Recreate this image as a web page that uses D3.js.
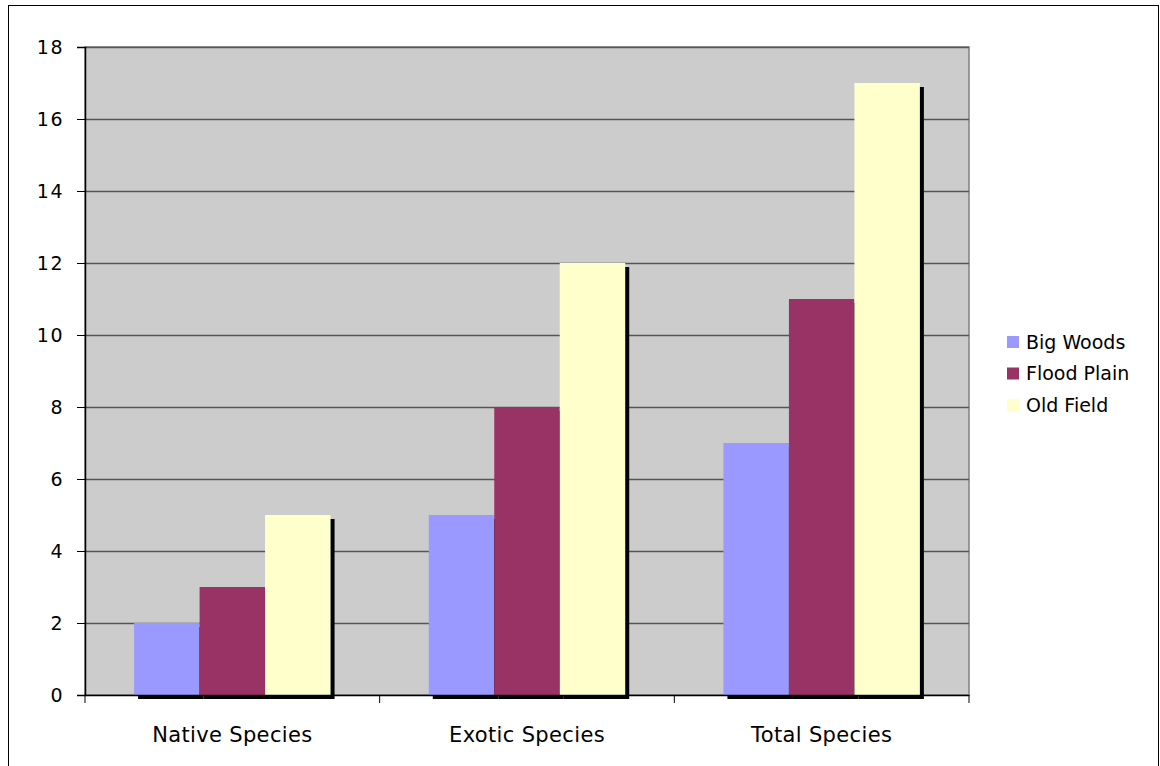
<!DOCTYPE html>
<html>
<head>
<meta charset="utf-8">
<script src="https://cdn.jsdelivr.net/npm/d3@7"></script>
<style>
  body { margin: 0; background: #fff; }
  text { font-family: Verdana, "DejaVu Sans", sans-serif; fill: #000; }
</style>
</head>
<body>
<div id="chart"></div>
<script>
// Dados
const categories = ['Native Species', 'Exotic Species', 'Total Species'];
const seriesNames = ['Big Woods', 'Flood Plain', 'Old Field'];
const bigWoods = [2, 5, 7];
const floodPlain = [3, 8, 11];
const oldField = [5, 12, 17];
const yTicks = [0, 2, 4, 6, 8, 10, 12, 14, 16, 18];

const seriesValues = [bigWoods, floodPlain, oldField];
const colors = ['#9999FF', '#993366', '#FFFFCC'];

const W = 1160, H = 766;
const plot = { left: 85, top: 47, right: 969, bottom: 695 };

const svg = d3.select('#chart').append('svg')
    .attr('width', W).attr('height', H);

// Moldura externa
svg.append('rect')
    .attr('x', 8.5).attr('y', 5.5)
    .attr('width', 1150).attr('height', 780)
    .attr('fill', '#fff').attr('stroke', '#000').attr('stroke-width', 1);

// Escalas
const x0 = d3.scaleBand().domain(categories).range([plot.left, plot.right]);
const x1 = d3.scaleBand().domain(seriesNames)
    .range([0, x0.bandwidth()]).paddingOuter(0.75).paddingInner(0);
const y = d3.scaleLinear().domain([0, 18]).range([plot.bottom, plot.top]);

// Área do gráfico
svg.append('rect')
    .attr('x', plot.left).attr('y', plot.top)
    .attr('width', plot.right - plot.left).attr('height', plot.bottom - plot.top)
    .attr('fill', '#cccccc').attr('stroke', '#808080').attr('stroke-width', 1.5);

// Grade
svg.append('g').selectAll('line')
    .data(yTicks.filter(d => d > 0))
    .enter().append('line')
    .attr('x1', plot.left).attr('x2', plot.right)
    .attr('y1', d => Math.round(y(d)) + 0.5).attr('y2', d => Math.round(y(d)) + 0.5)
    .attr('stroke', '#555').attr('stroke-width', 1.3);

// Linhas (categoria x série)
const rows = [];
categories.forEach((c, i) => {
    seriesNames.forEach((s, j) => rows.push({ cat: c, series: s, value: seriesValues[j][i], idx: j }));
});

// Sombras
svg.append('g').selectAll('rect')
    .data(rows).enter().append('rect')
    .attr('x', d => x0(d.cat) + x1(d.series) + 4)
    .attr('y', d => y(d.value) + 4)
    .attr('width', x1.bandwidth())
    .attr('height', d => plot.bottom - y(d.value))
    .attr('fill', '#000');

// Barras
svg.append('g').selectAll('rect')
    .data(rows).enter().append('rect')
    .attr('x', d => x0(d.cat) + x1(d.series))
    .attr('y', d => y(d.value))
    .attr('width', x1.bandwidth())
    .attr('height', d => plot.bottom - y(d.value))
    .attr('fill', d => colors[d.idx]);

// Eixo Y
const yAxis = svg.append('g')
    .attr('transform', `translate(${plot.left},0)`)
    .call(d3.axisLeft(y).tickValues(yTicks).tickSize(8).tickPadding(13));
yAxis.select('.domain').attr('stroke', '#000').attr('stroke-width', 1.5);
yAxis.selectAll('.tick line').attr('stroke', '#000');
yAxis.selectAll('text')
    .style('font-size', '19px').style('letter-spacing', '1.5px')
    .attr('fill', '#000');

// Eixo X
const xAxis = svg.append('g')
    .attr('transform', `translate(0,${plot.bottom})`)
    .call(d3.axisBottom(x0).tickSize(0).tickPadding(32));
xAxis.select('.domain').attr('stroke', '#000').attr('stroke-width', 1.5);
xAxis.selectAll('text')
    .style('font-size', '21px').style('letter-spacing', '0.35px')
    .attr('fill', '#000');

// Marcas entre categorias
svg.append('g').selectAll('line')
    .data(categories.map(c => x0(c)).concat([plot.right]))
    .enter().append('line')
    .attr('x1', d => d).attr('x2', d => d)
    .attr('y1', plot.bottom).attr('y2', plot.bottom + 8)
    .attr('stroke', '#000');

// Legenda
const legend = svg.append('g').attr('transform', 'translate(1007,342)');
const items = legend.selectAll('g').data(seriesNames).enter().append('g')
    .attr('transform', (d, i) => `translate(0,${i * 31.5})`);
items.append('rect')
    .attr('x', 0).attr('y', -6).attr('width', 12).attr('height', 12)
    .attr('fill', (d, i) => colors[i]);
items.append('text')
    .attr('x', 19).attr('y', 0).attr('dy', '0.35em')
    .style('font-size', '19px')
    .text(d => d);
</script>
</body>
</html>
